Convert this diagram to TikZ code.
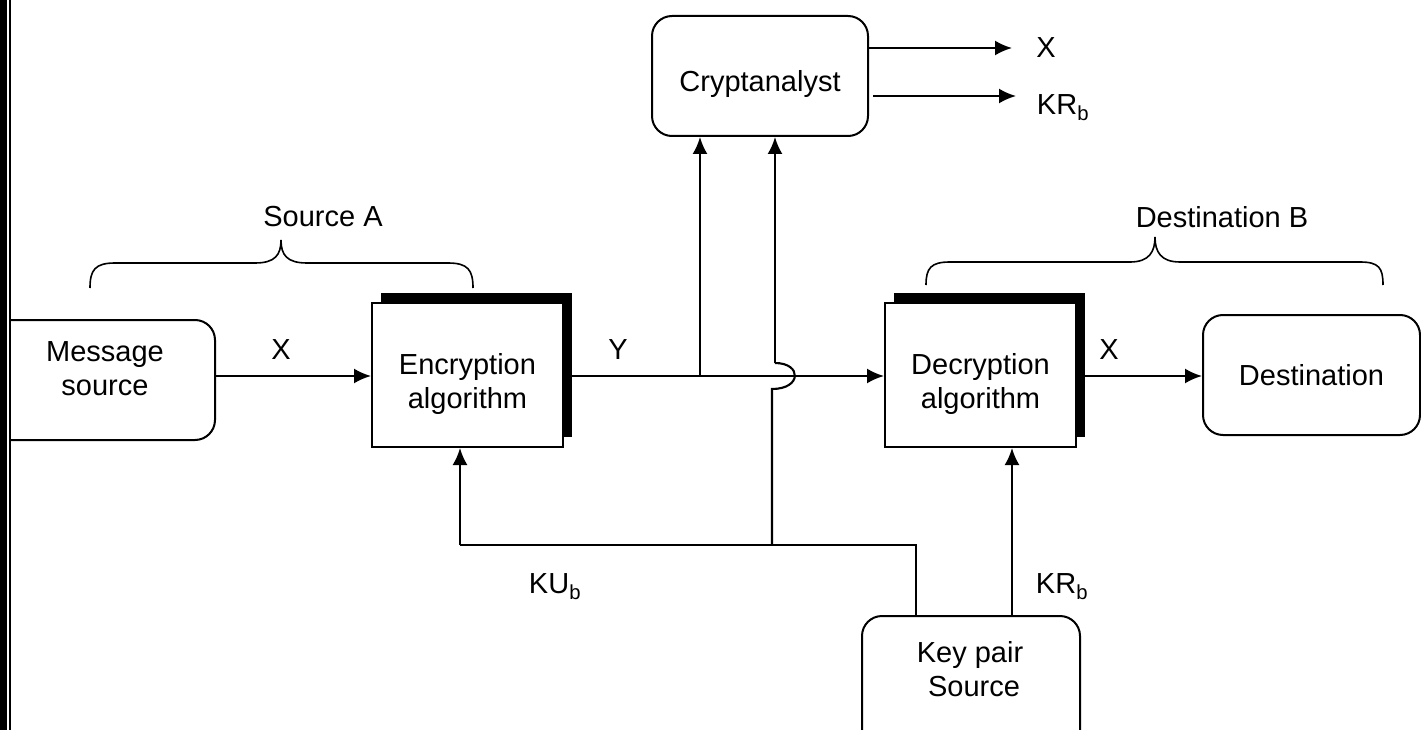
\documentclass[tikz,border=0pt]{standalone}
\usepackage{fontspec}
\setmainfont{Liberation Sans}
\usetikzlibrary{arrows.meta}
\begin{document}
\begin{tikzpicture}[x=1pt,y=-1pt,
  font=\fontsize{29pt}{34pt}\selectfont,
  ln/.style={line width=2.1pt},
  arr/.style={ln,-{Latex[length=17pt,width=15pt]}},
  rbox/.style={draw,line width=2pt,rounded corners=20pt,align=center,inner sep=0pt},
  sbox/.style={draw,line width=2pt,fill=white,align=center,inner sep=0pt,minimum width=191pt,minimum height=144pt},
  shad/.style={fill=black,inner sep=0pt,minimum width=191pt,minimum height=144pt},
  lbl/.style={inner sep=0pt}]
\useasboundingbox (0,0) rectangle (1421,730);
% left edge
\fill (0,0) rectangle (7,730);
\draw[line width=1.3pt] (10,0) -- (10,730);
% boxes
\begin{scope}
\clip (10,0) rectangle (1421,730);
\node[rbox,minimum width=225pt,minimum height=120pt] (msg) at (102.5,380) {};
\end{scope}
\node[lbl,align=center] (msgt) at (105,369) {Message\\source};
\node[shad] (encsh) at (476.5,365) {};
\node[sbox] (enc) at (467.5,375) {};
\node[lbl,align=center] (enct) at (467.5,384) {Encryption\\algorithm};
\node[shad] (decsh) at (989.5,365) {};
\node[sbox] (dec) at (980.5,375) {};
\node[lbl,align=center] (dect) at (980.5,384) {Decryption\\algorithm};
\node[rbox,minimum width=217pt,minimum height=120pt] (dest) at (1311.5,375) {Destination};
\node[rbox,minimum width=216pt,minimum height=120pt] (crypt) at (760,76) {};
\node[lbl] (cryptt) at (760,84) {Cryptanalyst};
\node[rbox,minimum width=218pt,minimum height=134pt] (key) at (971,683) {};
\node[lbl,align=center] (keyt) at (970,669) {Key pair\\\ Source};
% coordinates
\coordinate (br) at (700,376);
\coordinate (kl) at (916,545);
\coordinate (kc) at (772,545);
\coordinate (ke) at (460,545);
\coordinate (jb) at (772,389);
\coordinate (jt) at (775,363);
\coordinate (ox) at (1012,48);
\coordinate (ok) at (1016,96);
% connectors
\draw[arr] (msg.east |- 0,376) -- (enc.west |- 0,376);
\draw[arr] (encsh.east |- 0,376) -- (dec.west |- 0,376);
\draw[arr] (decsh.east |- 0,376) -- (dest.west |- 0,376);
\draw[arr] (br) -- (br |- crypt.south);
\draw[ln] (key.north -| kl) -- (kl) -- (ke);
\draw[arr] (ke) -- (ke |- enc.south);
\draw[ln] (kc) -- (jb) .. controls (802,389) and (802,363) .. (jt);
\draw[arr] (jt) -- (jt |- crypt.south);
\draw[arr] (key.north -| 1012,0) -- (dec.south -| 1012,0);
\draw[arr] (crypt.east |- ox) -- (ox);
\draw[arr] (873,96) -- (ok);
% labels
\node[lbl] (lx1) at (281,350) {X};
\node[lbl] (ly) at (618,350) {Y};
\node[lbl] (lx2) at (1109,350) {X};
\node[lbl] (lx3) at (1046,48) {X};
\node[lbl] (lkr1) at (1063,108) {KR\textsubscript{b}};
\node[lbl] (lku) at (555,587) {KU\textsubscript{b}};
\node[lbl] (lkr2) at (1062,587) {KR\textsubscript{b}};
\node[lbl] (lsa) at (323,217) {Source A};
\node[lbl] (ldb) at (1222,217) {Destination B};
% braces
\draw[line width=1.6pt] (90,288) .. controls (90,270) and (95,263) .. (115,263) -- (255,263)
  .. controls (275,263) and (281,255) .. (281,240)
  .. controls (281,255) and (287,263) .. (307,263) -- (448,263)
  .. controls (468,263) and (473,270) .. (473,288);
\draw[line width=1.6pt] (926,285) .. controls (926,268) and (931,262) .. (950,262) -- (1130,262)
  .. controls (1149,262) and (1155,252) .. (1155,237)
  .. controls (1155,252) and (1161,262) .. (1180,262) -- (1360,262)
  .. controls (1379,262) and (1383,268) .. (1383,285);
\end{tikzpicture}
\end{document}
